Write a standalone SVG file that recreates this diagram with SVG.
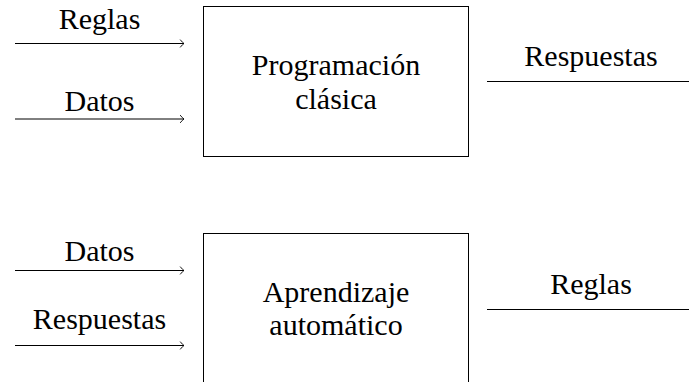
<svg xmlns="http://www.w3.org/2000/svg" width="689" height="382" viewBox="0 0 689 382">
<style>
text{font-family:'Liberation Serif','Times New Roman',serif;font-size:30px;fill:#000;text-anchor:middle}
.box{fill:#fff;stroke:#000;stroke-width:1}
.edge{stroke:#000;stroke-width:1;fill:none}
</style>
<defs>
<marker id="arr" markerUnits="userSpaceOnUse" markerWidth="10" markerHeight="10" viewBox="-6 -5 8 10" refX="0" refY="0" orient="auto">
<path d="M-3.6,-3.6 Q-1.2,-0.6 0,0 Q-1.2,0.6 -3.6,3.6" fill="none" stroke="#000" stroke-width="0.9" stroke-linecap="round"/>
</marker>
</defs>
<rect width="689" height="382" fill="#fff"/>
<g id="clasica">
<rect class="box" x="203.5" y="6.5" width="265" height="150"/>
<text x="336" y="75">Programación</text>
<text x="336" y="108.5">clásica</text>
</g>
<g id="automatico">
<rect class="box" x="203.5" y="233.5" width="265" height="160"/>
<text x="336" y="302">Aprendizaje</text>
<text x="336" y="335">automático</text>
</g>
<g id="connectors">
<line class="edge" x1="15" y1="43.5" x2="184" y2="43.5" marker-end="url(#arr)"/>
<text x="99.5" y="29">Reglas</text>
<line class="edge" x1="15" y1="119" x2="184" y2="119" marker-end="url(#arr)"/>
<text x="99.5" y="111">Datos</text>
<line class="edge" x1="487" y1="81.5" x2="689" y2="81.5"/>
<text x="591" y="65.5">Respuestas</text>
<line class="edge" x1="15" y1="270.5" x2="184" y2="270.5" marker-end="url(#arr)"/>
<text x="99.5" y="261">Datos</text>
<line class="edge" x1="15" y1="345.5" x2="184" y2="345.5" marker-end="url(#arr)"/>
<text x="99.5" y="328.5">Respuestas</text>
<line class="edge" x1="487" y1="309.5" x2="689" y2="309.5"/>
<text x="591" y="293.5">Reglas</text>
</g>
</svg>
